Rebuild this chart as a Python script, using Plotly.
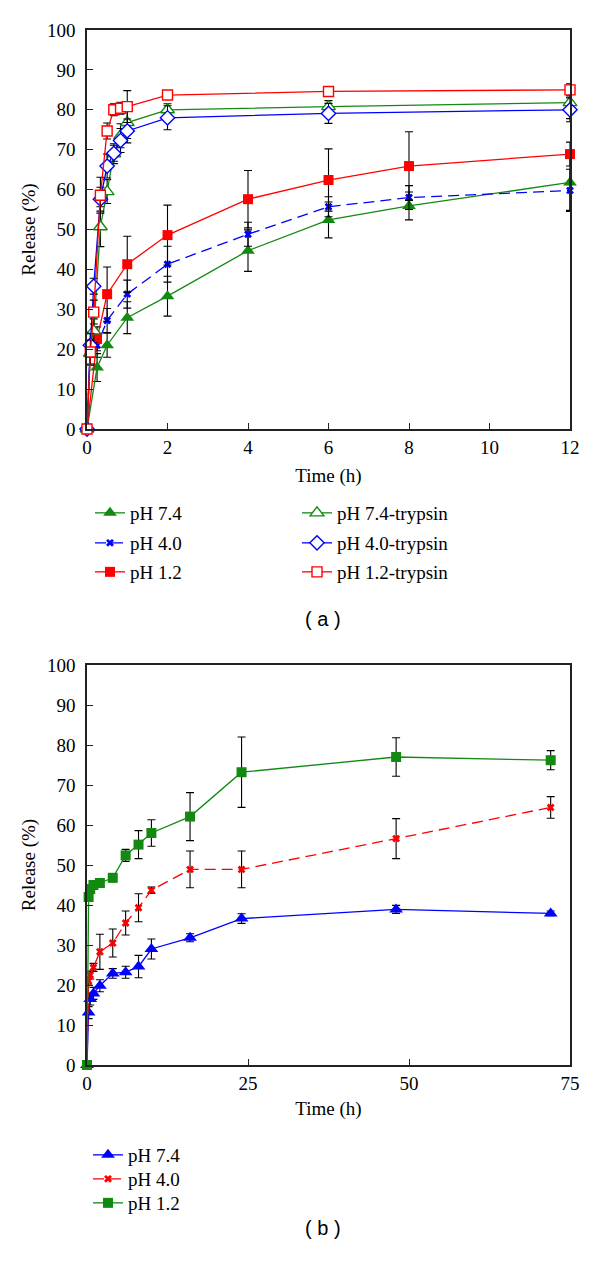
import plotly.graph_objects as go

# ---------------- Panel (a) data ----------------
t_a_74 = [0, 0.25, 0.5, 1, 2, 4, 6, 8, 12]
r_a_74 = [0, 15.4, 21.0, 27.9, 33.3, 44.7, 52.4, 55.9, 61.8]
e_a_74 = [None, 3.5, 3.0, 4.0, 5.0, 5.2, 4.5, 3.5, 7.0]

t_a_40 = [0, 0.083, 0.25, 0.5, 1, 2, 4, 6, 8, 12]
r_a_40 = [0, 21.3, 21.0, 27.2, 33.8, 41.3, 48.8, 55.7, 58.0, 59.8]
e_a_40 = [None, 3.0, 3.0, 3.0, 3.5, 4.5, 3.0, 2.5, 3.0, 5.3]

t_a_12 = [0, 0.25, 0.5, 1, 2, 4, 6, 8, 12]
r_a_12 = [0, 22.6, 33.8, 41.3, 48.6, 57.6, 62.4, 65.9, 68.9]
e_a_12 = [None, 3.0, 6.8, 7.0, 7.5, 7.2, 7.8, 8.6, 3.0]

t_a_tr = [0, 0.083, 0.167, 0.333, 0.5, 0.667, 0.833, 1, 2, 6, 12]
r_a_74t = [0, 19.0, 24.6, 50.7, 59.5, 69.0, 73.5, 76.8, 80.0, 80.8, 81.8]
e_a_74t = [None, 3.0, 3.0, 5.0, 3.0, 2.5, 3.0, 4.0, 1.5, 1.5, 4.0]
r_a_40t = [0, 21.0, 35.8, 57.6, 65.9, 69.1, 72.3, 74.7, 78.0, 79.1, 80.0]
e_a_40t = [None, 3.0, 2.0, 3.0, 3.0, 2.0, 3.0, 3.0, 3.0, 2.5, 3.0]
r_a_12t = [0, 19.3, 29.3, 58.6, 74.7, 80.0, 80.4, 80.8, 83.7, 84.6, 85.0]
e_a_12t = [None, 3.0, 3.0, 4.5, 2.0, 1.5, 1.5, 4.0, 1.0, 1.0, 1.5]

# ---------------- Panel (b) data ----------------
t_b = [0, 0.25, 0.5, 1, 2, 4, 6, 8, 10, 16, 24, 48, 72]
r_b_74 = [0, 13.1, 16.5, 17.9, 19.8, 22.9, 23.2, 24.6, 29.0, 31.8, 36.6, 38.9, 37.9]
e_b_74 = [None, 1.5, 1.5, 1.5, 1.5, 1.2, 1.5, 2.8, 2.5, 1.0, 1.2, 1.0, 0.6]
r_b_40 = [0, 21.0, 22.5, 24.4, 28.3, 30.5, 35.5, 39.3, 43.7, 48.9, 48.9, 56.6, 64.4]
e_b_40 = [None, 1.0, 1.0, 1.0, 4.4, 3.5, 3.0, 3.5, 0.8, 4.6, 4.6, 5.0, 2.7]
r_b_12 = [0, 42.0, 44.0, 45.0, 45.5, 46.8, 52.4, 55.1, 58.0, 62.1, 73.2, 77.0, 76.2]
e_b_12 = [None, 1.0, 1.0, 1.0, 1.0, 1.0, 1.5, 3.5, 3.3, 6.0, 8.8, 4.8, 2.4]

GREEN = "#128a12"
BLUE = "#0000ff"
RED = "#ff0000"
SERIF = "Liberation Serif"
DASH = "11px,6px"

W, H = 600, 1267
OFF = 8  # page body margin offset


def px_x(x):
    return (x - OFF) / W


def px_y(y):
    return 1 - (y - OFF) / H


fig = go.Figure()


def add(x, y, e, name, color, symbol, size, open_=False, dash="solid",
        xa="x", ya="y", legend="legend"):
    marker = dict(symbol=symbol, size=size)
    if open_:
        marker.update(color="white", line=dict(color=color, width=1.4))
    else:
        marker.update(color=color, line=dict(color=color, width=0))
    fig.add_trace(go.Scatter(
        x=x, y=y, name=name, mode="lines+markers",
        line=dict(color=color, width=1.3, dash=dash),
        marker=marker,
        error_y=dict(type="data", array=e, visible=True, color="black",
                     thickness=1.1, width=4),
        xaxis=xa, yaxis=ya, legend=legend, cliponaxis=False,
    ))


# panel (a)
add(t_a_74, r_a_74, e_a_74, "pH 7.4", GREEN, "triangle-up", 12, legend="legend")
add(t_a_40, r_a_40, e_a_40, "pH 4.0", BLUE, "x", 7, dash=DASH, legend="legend2")
add(t_a_12, r_a_12, e_a_12, "pH 1.2", RED, "square", 10, legend="legend3")
add(t_a_tr, r_a_74t, e_a_74t, "pH 7.4-trypsin", GREEN, "triangle-up", 12, open_=True, legend="legend4")
add(t_a_tr, r_a_40t, e_a_40t, "pH 4.0-trypsin", BLUE, "diamond", 11, open_=True, legend="legend5")
add(t_a_tr, r_a_12t, e_a_12t, "pH 1.2-trypsin", RED, "square", 10, open_=True, legend="legend6")

# panel (b)
add(t_b, r_b_74, e_b_74, "pH 7.4", BLUE, "triangle-up", 12, xa="x2", ya="y2", legend="legend7")
add(t_b, r_b_40, e_b_40, "pH 4.0", RED, "x", 7, dash=DASH, xa="x2", ya="y2", legend="legend8")
add(t_b, r_b_12, e_b_12, "pH 1.2", GREEN, "square", 10, xa="x2", ya="y2", legend="legend9")

axis_common = dict(
    showline=True, linecolor="#222", linewidth=1.5, mirror=True,
    ticks="inside", ticklen=6, tickcolor="#222", tickwidth=1.3,
    showgrid=False, zeroline=False, automargin=False,
    tickfont=dict(family=SERIF, size=19, color="black"),
    title_font=dict(family=SERIF, size=19, color="black"),
)

xdom = [px_x(87), px_x(570)]

legend_font = dict(family=SERIF, size=19, color="black")


def leg(x, y):
    return dict(x=px_x(x), y=px_y(y), xanchor="left", yanchor="middle",
                bgcolor="rgba(0,0,0,0)", font=legend_font)


fig.update_layout(
    width=W, height=H,
    margin=dict(l=0, r=0, t=0, b=0),
    paper_bgcolor="white", plot_bgcolor="white",
    font=dict(family=SERIF, color="black"),
    xaxis=dict(domain=xdom, anchor="y", range=[0, 12], tickvals=[0, 2, 4, 6, 8, 10, 12],
               ticklabelstandoff=0,
               title=dict(text="Time (h)", standoff=12), **axis_common),
    yaxis=dict(domain=[px_y(429), px_y(30)], anchor="x", range=[0, 100],
               tickvals=list(range(0, 101, 10)), ticklabelstandoff=6,
               title=dict(text="Release (%)", standoff=6), **axis_common),
    xaxis2=dict(domain=xdom, anchor="y2", range=[0, 75], tickvals=[0, 25, 50, 75],
                ticklabelstandoff=0,
                title=dict(text="Time (h)", standoff=9), **axis_common),
    yaxis2=dict(domain=[px_y(1065), px_y(665)], anchor="x2", range=[0, 100],
                tickvals=list(range(0, 101, 10)), ticklabelstandoff=6,
                title=dict(text="Release (%)", standoff=6), **axis_common),
    legend=leg(90, 513),
    legend2=leg(90, 543),
    legend3=leg(90, 572),
    legend4=leg(297, 513),
    legend5=leg(297, 543),
    legend6=leg(297, 572),
    legend7=leg(88, 1155),
    legend8=leg(88, 1179),
    legend9=leg(88, 1203),
    showlegend=True,
    annotations=[
        dict(text="( a )", x=px_x(323), y=px_y(619), xref="paper", yref="paper",
             showarrow=False, font=dict(family="Liberation Sans", size=20, color="black")),
        dict(text="( b )", x=px_x(323), y=px_y(1241), xref="paper", yref="paper",
             showarrow=False, font=dict(family="Liberation Sans", size=20, color="black")),
    ],
)

fig.write_html("out.html")
